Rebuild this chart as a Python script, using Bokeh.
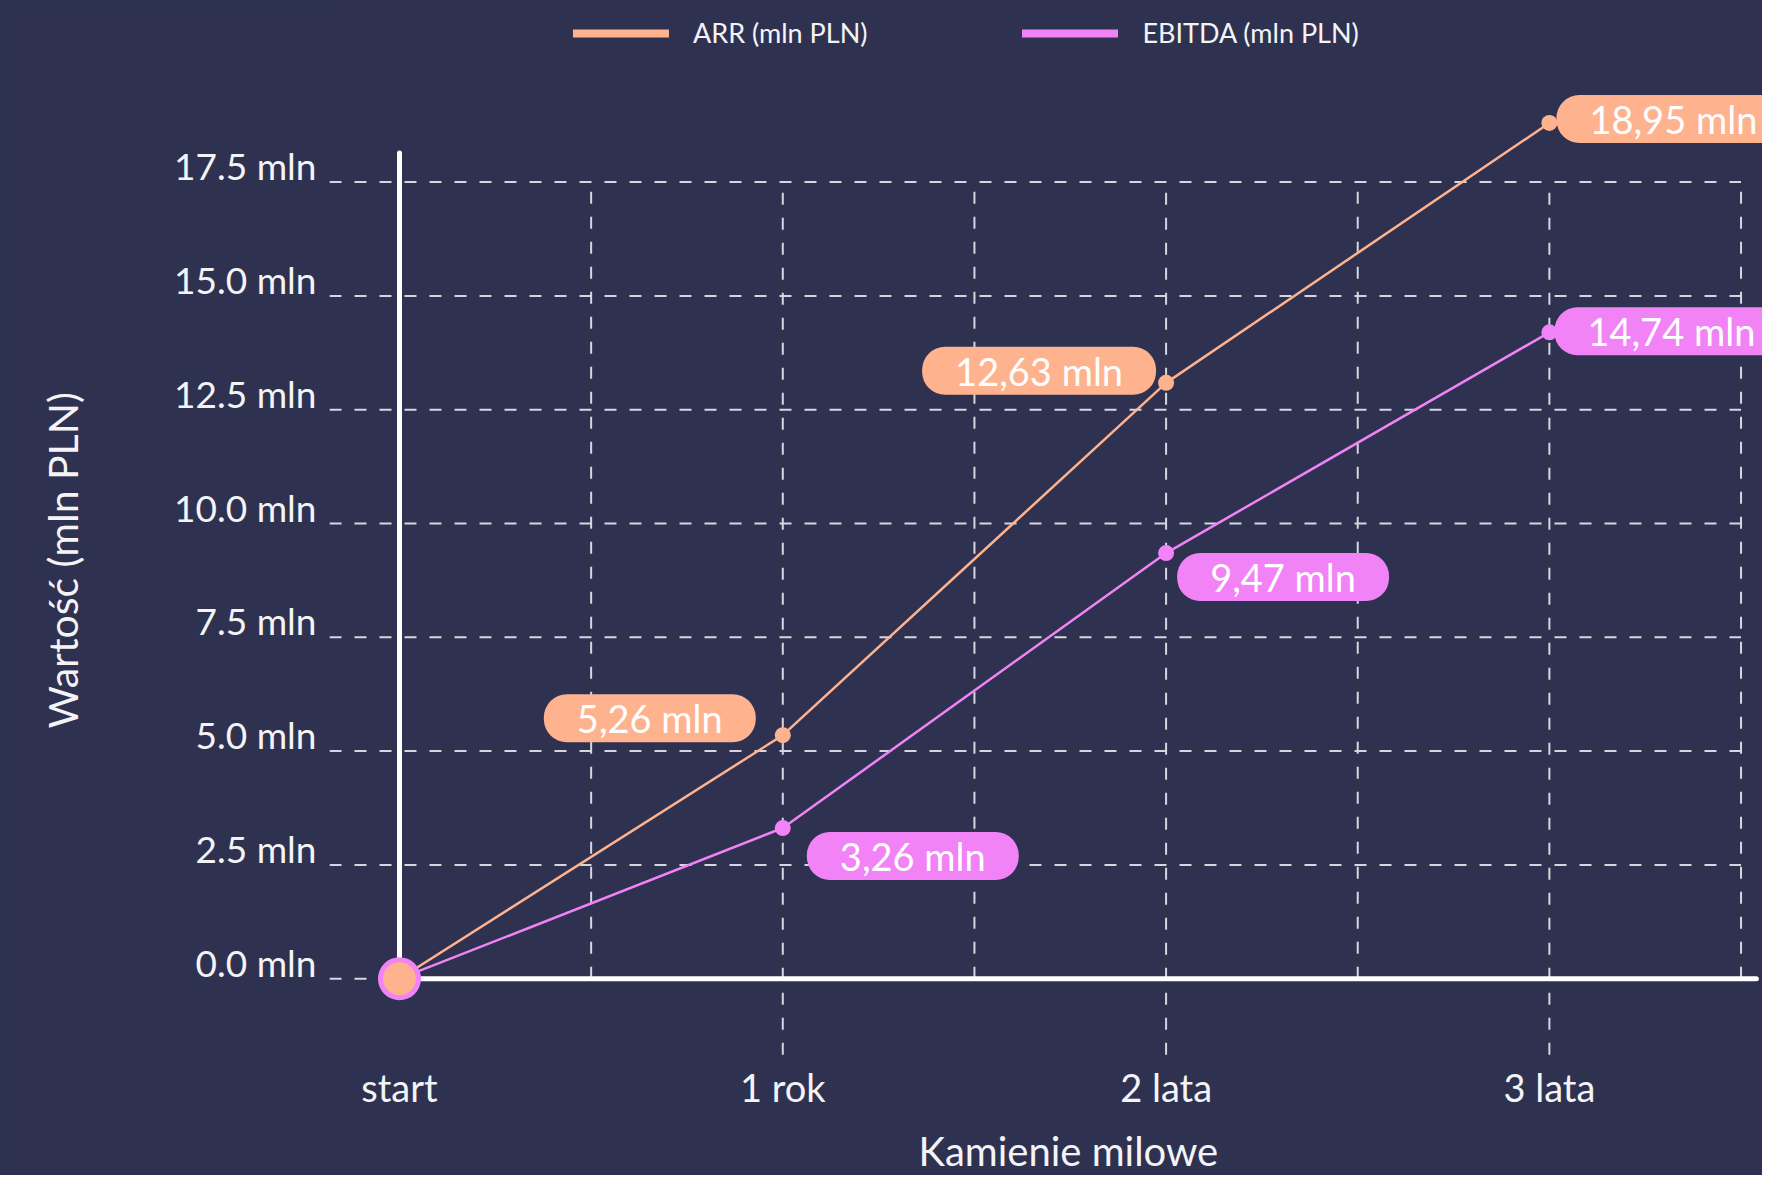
from bokeh.plotting import figure
from bokeh.models import Range1d, FixedTicker, Legend, LegendItem, ColumnDataSource, Title
from bokeh.core.properties import value
from bokeh.embed import file_html
from bokeh.resources import INLINE

# ---------------- data ----------------
categories = ["start", "1 rok", "2 lata", "3 lata"]
arr_values = [0.0, 5.35, 13.09, 18.8]
ebitda_values = [0.0, 3.31, 9.35, 14.2]
arr_labels = ["", "5,26 mln", "12,63 mln", "18,95 mln"]
ebitda_labels = ["", "3,26 mln", "9,47 mln", "14,74 mln"]
y_ticks = [0, 2.5, 5, 7.5, 10, 12.5, 15, 17.5]
y_tick_labels = ["0.0 mln", "2.5 mln", "5.0 mln", "7.5 mln", "10.0 mln",
                 "12.5 mln", "15.0 mln", "17.5 mln"]
series_names = ["ARR (mln PLN)", "EBITDA (mln PLN)"]
x_title = "Kamienie milowe"
y_title = "Wartość (mln PLN)"

# ---------------- style ----------------
BG = "#2e3250"
ARR_C = "#ffb28e"
EBI_C = "#f283f7"
GRID_C = "#d6d7de"
TXT_C = "#f4f4f6"
FONT = "Lato"
arr_dx = [-133, -127, 124]
arr_dy = [-17, -12, -4]
ebi_dx = [130, 117, 122]
ebi_dy = [28, 24, -1]
arr_sizes = [33, 16, 16, 16]
ebi_sizes = [43, 16, 16, 16]
label_lift = 0.36  # tick labels sit slightly above their grid lines

xs = list(range(len(categories)))

p = figure(width=1762, height=1175, output_backend="svg", toolbar_location=None,
           x_range=Range1d(-0.1826, 3.556), y_range=Range1d(-1.731, 21.49),
           min_border_left=329, min_border_right=0, min_border_top=0,
           min_border_bottom=115)
p.background_fill_color = BG
p.border_fill_color = BG
p.outline_line_color = None
p.styles = {"background-color": BG}
p.xgrid.visible = False
p.ygrid.visible = False

# axes
lab_pos = [t + label_lift for t in y_ticks]
p.yaxis.ticker = FixedTicker(ticks=lab_pos)
p.yaxis.major_label_overrides = {t: l for t, l in zip(lab_pos, y_tick_labels)}
p.xaxis.ticker = FixedTicker(ticks=xs)
p.xaxis.major_label_overrides = {i: c for i, c in zip(xs, categories)}
for ax in (p.xaxis[0], p.yaxis[0]):
    ax.axis_line_color = None
    ax.major_tick_line_color = None
    ax.minor_tick_line_color = None
    ax.major_label_text_color = TXT_C
    ax.major_label_text_font = FONT
p.yaxis.major_label_text_font_size = "37px"
p.xaxis.major_label_text_font_size = "38px"
p.yaxis.major_label_standoff = 7
p.xaxis.major_label_standoff = 0
# spacer labels so the axis titles sit where the reference has them
p.yaxis.axis_label = " "
p.yaxis.axis_label_text_font_size = "2px"
p.yaxis.axis_label_standoff = 74
p.xaxis.axis_label = " "
p.xaxis.axis_label_text_font_size = "2px"
p.xaxis.axis_label_standoff = 6

p.add_layout(Title(text=y_title, align="left", offset=329, standoff=10,
                   vertical_align="bottom", text_font=FONT, text_font_size="41px",
                   text_font_style="normal", text_color=TXT_C), "left")
p.add_layout(Title(text=x_title, align="left", offset=589, standoff=2,
                   vertical_align="bottom", text_font=FONT, text_font_size="40px",
                   text_font_style="normal", text_color=TXT_C), "below")

# grid lines (dashed)
x_left = -0.1826
x_right_grid = len(categories) - 0.5
p.segment(x0=[x_left] * len(y_ticks), y0=y_ticks, x1=[x_right_grid] * len(y_ticks), y1=y_ticks,
          line_color=GRID_C, line_width=2, line_dash="12 13")
half_x = [i + 0.5 for i in xs]
p.segment(x0=half_x, y0=[0] * len(half_x), x1=half_x, y1=[y_ticks[-1]] * len(half_x),
          line_color=GRID_C, line_width=2, line_dash="12 13")
full_x = xs[1:]
p.segment(x0=full_x, y0=[-1.67] * len(full_x), x1=full_x, y1=[y_ticks[-1]] * len(full_x),
          line_color=GRID_C, line_width=2, line_dash="12 13")

# custom axis lines
p.segment(x0=[0], y0=[0], x1=[0], y1=[18.14], line_color="white", line_width=5, line_cap="round")
p.segment(x0=[0], y0=[0], x1=[3.54], y1=[0], line_color="white", line_width=5, line_cap="round")

# series lines
p.line(xs, ebitda_values, line_color=EBI_C, line_width=2.5)
p.line(xs, arr_values, line_color=ARR_C, line_width=2.5)
p.scatter(xs, ebitda_values, size=ebi_sizes, fill_color=EBI_C, line_color=None)
p.scatter(xs, arr_values, size=arr_sizes, fill_color=ARR_C, line_color=None)

# value pills
arr_src = ColumnDataSource(dict(x=xs[1:], y=arr_values[1:], t=arr_labels[1:], dx=arr_dx, dy=arr_dy))
ebi_src = ColumnDataSource(dict(x=xs[1:], y=ebitda_values[1:], t=ebitda_labels[1:], dx=ebi_dx, dy=ebi_dy))
for src, col in ((arr_src, ARR_C), (ebi_src, EBI_C)):
    p.text(x="x", y="y", text="t", x_offset="dx", y_offset="dy", source=src,
           text_align="center", text_baseline="middle", text_color="white",
           text_font=value(FONT), text_font_size="38px",
           background_fill_color=col, padding=(33, 1), border_radius=23)

# legend (off-screen renderers carry the thick legend keys)
nan = float("nan")
l1 = p.line(x=[nan], y=[nan], line_color=ARR_C, line_width=8, line_cap="round")
l2 = p.line(x=[nan], y=[nan], line_color=EBI_C, line_width=8, line_cap="round")
legend = Legend(items=[LegendItem(label=series_names[0], renderers=[l1]),
                       LegendItem(label=series_names[1], renderers=[l2])],
                orientation="horizontal", location=(244, 1008),
                glyph_width=96, glyph_height=20, label_standoff=24, spacing=155,
                padding=0, margin=0, border_line_color=None, background_fill_alpha=0,
                label_text_color=TXT_C, label_text_font=FONT, label_text_font_size="27px")
p.add_layout(legend)

html = file_html(p, INLINE)
html = html.replace("<body>", '<body style="background-color:%s;">' % BG, 1)
open("out.html", "w").write(html)
